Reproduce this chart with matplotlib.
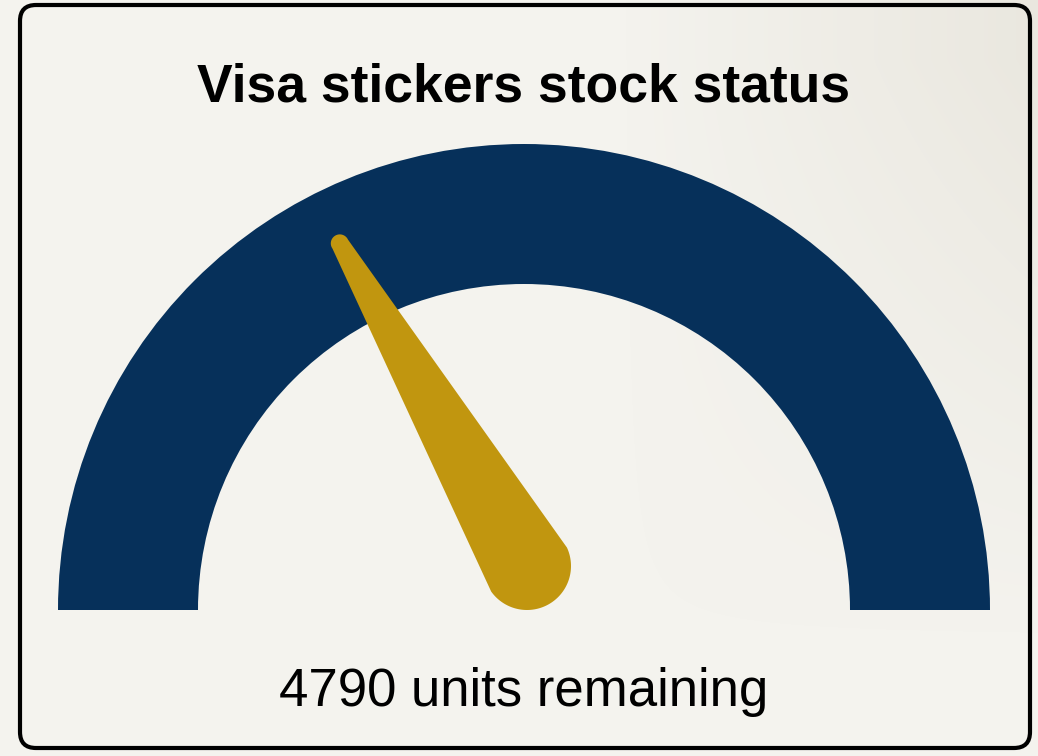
import numpy as np
import matplotlib.pyplot as plt
from matplotlib.patches import Wedge, Polygon, FancyBboxPatch

# gauge data
title = 'Visa stickers stock status'
units_remaining = 4790
gauge_min = 0
gauge_max = 14400
unit_label = 'units remaining'

navy = '#06305a'
gold = '#c1960f'
bg = '#f4f3ee'

W, H = 1038, 756
fig = plt.figure(figsize=(W / 100, H / 100), dpi=100)
fig.patch.set_facecolor(bg)
ax = fig.add_axes([0, 0, 1, 1])
ax.set_xlim(0, W)
ax.set_ylim(0, H)
ax.set_aspect('equal')
ax.axis('off')

# faint beige shading towards the top right (background texture)
xx = np.linspace(0, 1, 300)
yy = np.linspace(0, 1, 200)
gx, gy = np.meshgrid(xx, yy)
shade = np.clip((gx - 0.6) / 0.4, 0, 1) * np.clip(gy * 1.3 - 0.2, 0, 1)
img = np.zeros((200, 300, 4))
img[..., 0] = 0.86
img[..., 1] = 0.84
img[..., 2] = 0.79
img[..., 3] = 0.4 * shade
ax.imshow(img, extent=[0, W, 0, H], origin='lower', zorder=0, interpolation='bilinear')

# card border
card = FancyBboxPatch((20, 8), 1010, 743, boxstyle='round,pad=0,rounding_size=16',
                      facecolor='none', edgecolor='black', linewidth=3, zorder=5)
ax.add_patch(card)

# gauge arc
cx, cy = 524, 146
r_out, r_in = 466, 326
ax.add_patch(Wedge((cx, cy), r_out, 0, 180, width=r_out - r_in, facecolor=navy,
                   edgecolor='none', zorder=2))

# needle
frac = (units_remaining - gauge_min) / (gauge_max - gauge_min)
theta = np.pi * (1 - frac)
px, py = 527, 190
L = 373
R_base, r_tip = 44, 9
tx, ty = px + L * np.cos(theta), py + L * np.sin(theta)
g = np.arccos((r_tip - R_base) / L)
a_tip = np.linspace(theta - g, theta + g, 40)
a_base = np.linspace(theta + g, theta + 2 * np.pi - g, 80)
pts = np.vstack([
    np.column_stack([tx + r_tip * np.cos(a_tip), ty + r_tip * np.sin(a_tip)]),
    np.column_stack([px + R_base * np.cos(a_base), py + R_base * np.sin(a_base)]),
])
ax.add_patch(Polygon(pts, closed=True, facecolor=gold, edgecolor='none', zorder=3))

# texts
ax.text(cx, 669, title, ha='center', va='center', fontsize=38.5, fontweight='bold',
        family='Liberation Sans', color='black', zorder=6)
ax.text(cx, 64, f'{units_remaining} {unit_label}', ha='center', va='center',
        fontsize=38, family='Liberation Sans', color='black', zorder=6)

plt.savefig('out.png', dpi=100, facecolor=fig.get_facecolor())
